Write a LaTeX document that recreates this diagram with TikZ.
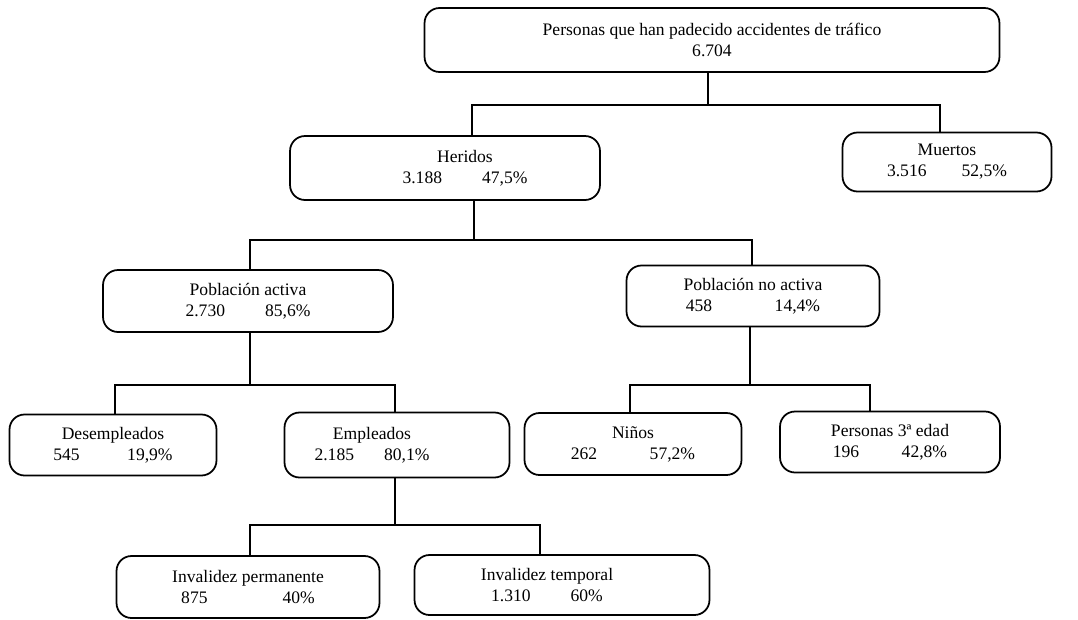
\documentclass[tikz,border=0pt]{standalone}
\usepackage{fontspec}
\setmainfont{Liberation Serif}
\usepackage{tikz}
\tikzstyle{caja} = [rectangle, rounded corners=0.3cm, draw=black, line width=1pt, align=center, inner sep=2pt, font=\fontsize{10}{12}\selectfont]
\tikzstyle{rama} = [line width=0.8pt]

\begin{document}
\begin{tikzpicture}[x=0.02cm, y=-0.02cm]
  \useasboundingbox (0,0) rectangle (1078,619);
  % cajas
  \node(total)[caja, minimum width=11.5cm, minimum height=1.28cm] at (712,40) {Personas que han padecido accidentes de tráfico\\6.704};
  \node(heridos)[caja, minimum width=6.2cm, minimum height=1.28cm] at (445,168) {\hspace*{0.8cm}Heridos\\\hspace*{0.8cm}3.188\hspace{0.8cm}47,5\%};
  \node(muertos)[caja, minimum width=4.18cm, minimum height=1.18cm] at (947,162) {Muertos\\3.516\hspace{0.7cm}52,5\%};
  \node(pobactiva)[caja, minimum width=5.8cm, minimum height=1.24cm] at (248,301) {Población activa\\2.730\hspace{0.8cm}85,6\%};
  \node(pobnoactiva)[caja, minimum width=5.06cm, minimum height=1.22cm] at (753,296) {Población no activa\\458\hspace{1.25cm}14,4\%};
  \node(desempleados)[caja, minimum width=4.14cm, minimum height=1.22cm] at (113,445) {Desempleados\\545\hspace{0.95cm}19,9\%};
  \node(empleados)[caja, minimum width=4.5cm, minimum height=1.3cm] at (397,445) {Empleados\hspace*{1cm}\\2.185\hspace{0.6cm}80,1\%\hspace*{1cm}};
  \node(ninos)[caja, minimum width=4.34cm, minimum height=1.24cm] at (633,444) {Niños\\262\hspace{1.05cm}57,2\%};
  \node(tercera)[caja, minimum width=4.4cm, minimum height=1.22cm] at (890,442) {Personas 3ª edad\\196\hspace{0.85cm}42,8\%};
  \node(invperm)[caja, minimum width=5.26cm, minimum height=1.24cm] at (248,587) {Invalidez permanente\\875\hspace{1.5cm}40\%};
  \node(invtemp)[caja, minimum width=5.9cm, minimum height=1.2cm] at (562,585) {Invalidez temporal\hspace*{0.6cm}\\1.310\hspace{0.8cm}60\%\hspace*{0.6cm}};
  % ramas
  \coordinate (t1) at (708,105);
  \coordinate (h1) at (472,105);
  \coordinate (m1) at (940,105);
  \draw[rama] (total.south -| t1) -- (t1);
  \draw[rama] (heridos.north -| h1) -- (h1) -- (m1) -- (muertos.north -| m1);
  \coordinate (h2) at (474,240);
  \coordinate (a2) at (250,240);
  \coordinate (n2) at (752,240);
  \draw[rama] (heridos.south -| h2) -- (h2);
  \draw[rama] (pobactiva.north -| a2) -- (a2) -- (n2) -- (pobnoactiva.north -| n2);
  \coordinate (a3) at (250,385);
  \coordinate (d3) at (115,385);
  \coordinate (e3) at (395,385);
  \draw[rama] (pobactiva.south -| a3) -- (a3);
  \draw[rama] (desempleados.north -| d3) -- (d3) -- (e3) -- (empleados.north -| e3);
  \coordinate (n3) at (750,385);
  \coordinate (k3) at (630,385);
  \coordinate (p3) at (870,385);
  \draw[rama] (pobnoactiva.south -| n3) -- (n3);
  \draw[rama] (ninos.north -| k3) -- (k3) -- (p3) -- (tercera.north -| p3);
  \coordinate (e4) at (395,525);
  \coordinate (i4) at (250,525);
  \coordinate (j4) at (540,525);
  \draw[rama] (empleados.south -| e4) -- (e4);
  \draw[rama] (invperm.north -| i4) -- (i4) -- (j4) -- (invtemp.north -| j4);
\end{tikzpicture}
\end{document}
